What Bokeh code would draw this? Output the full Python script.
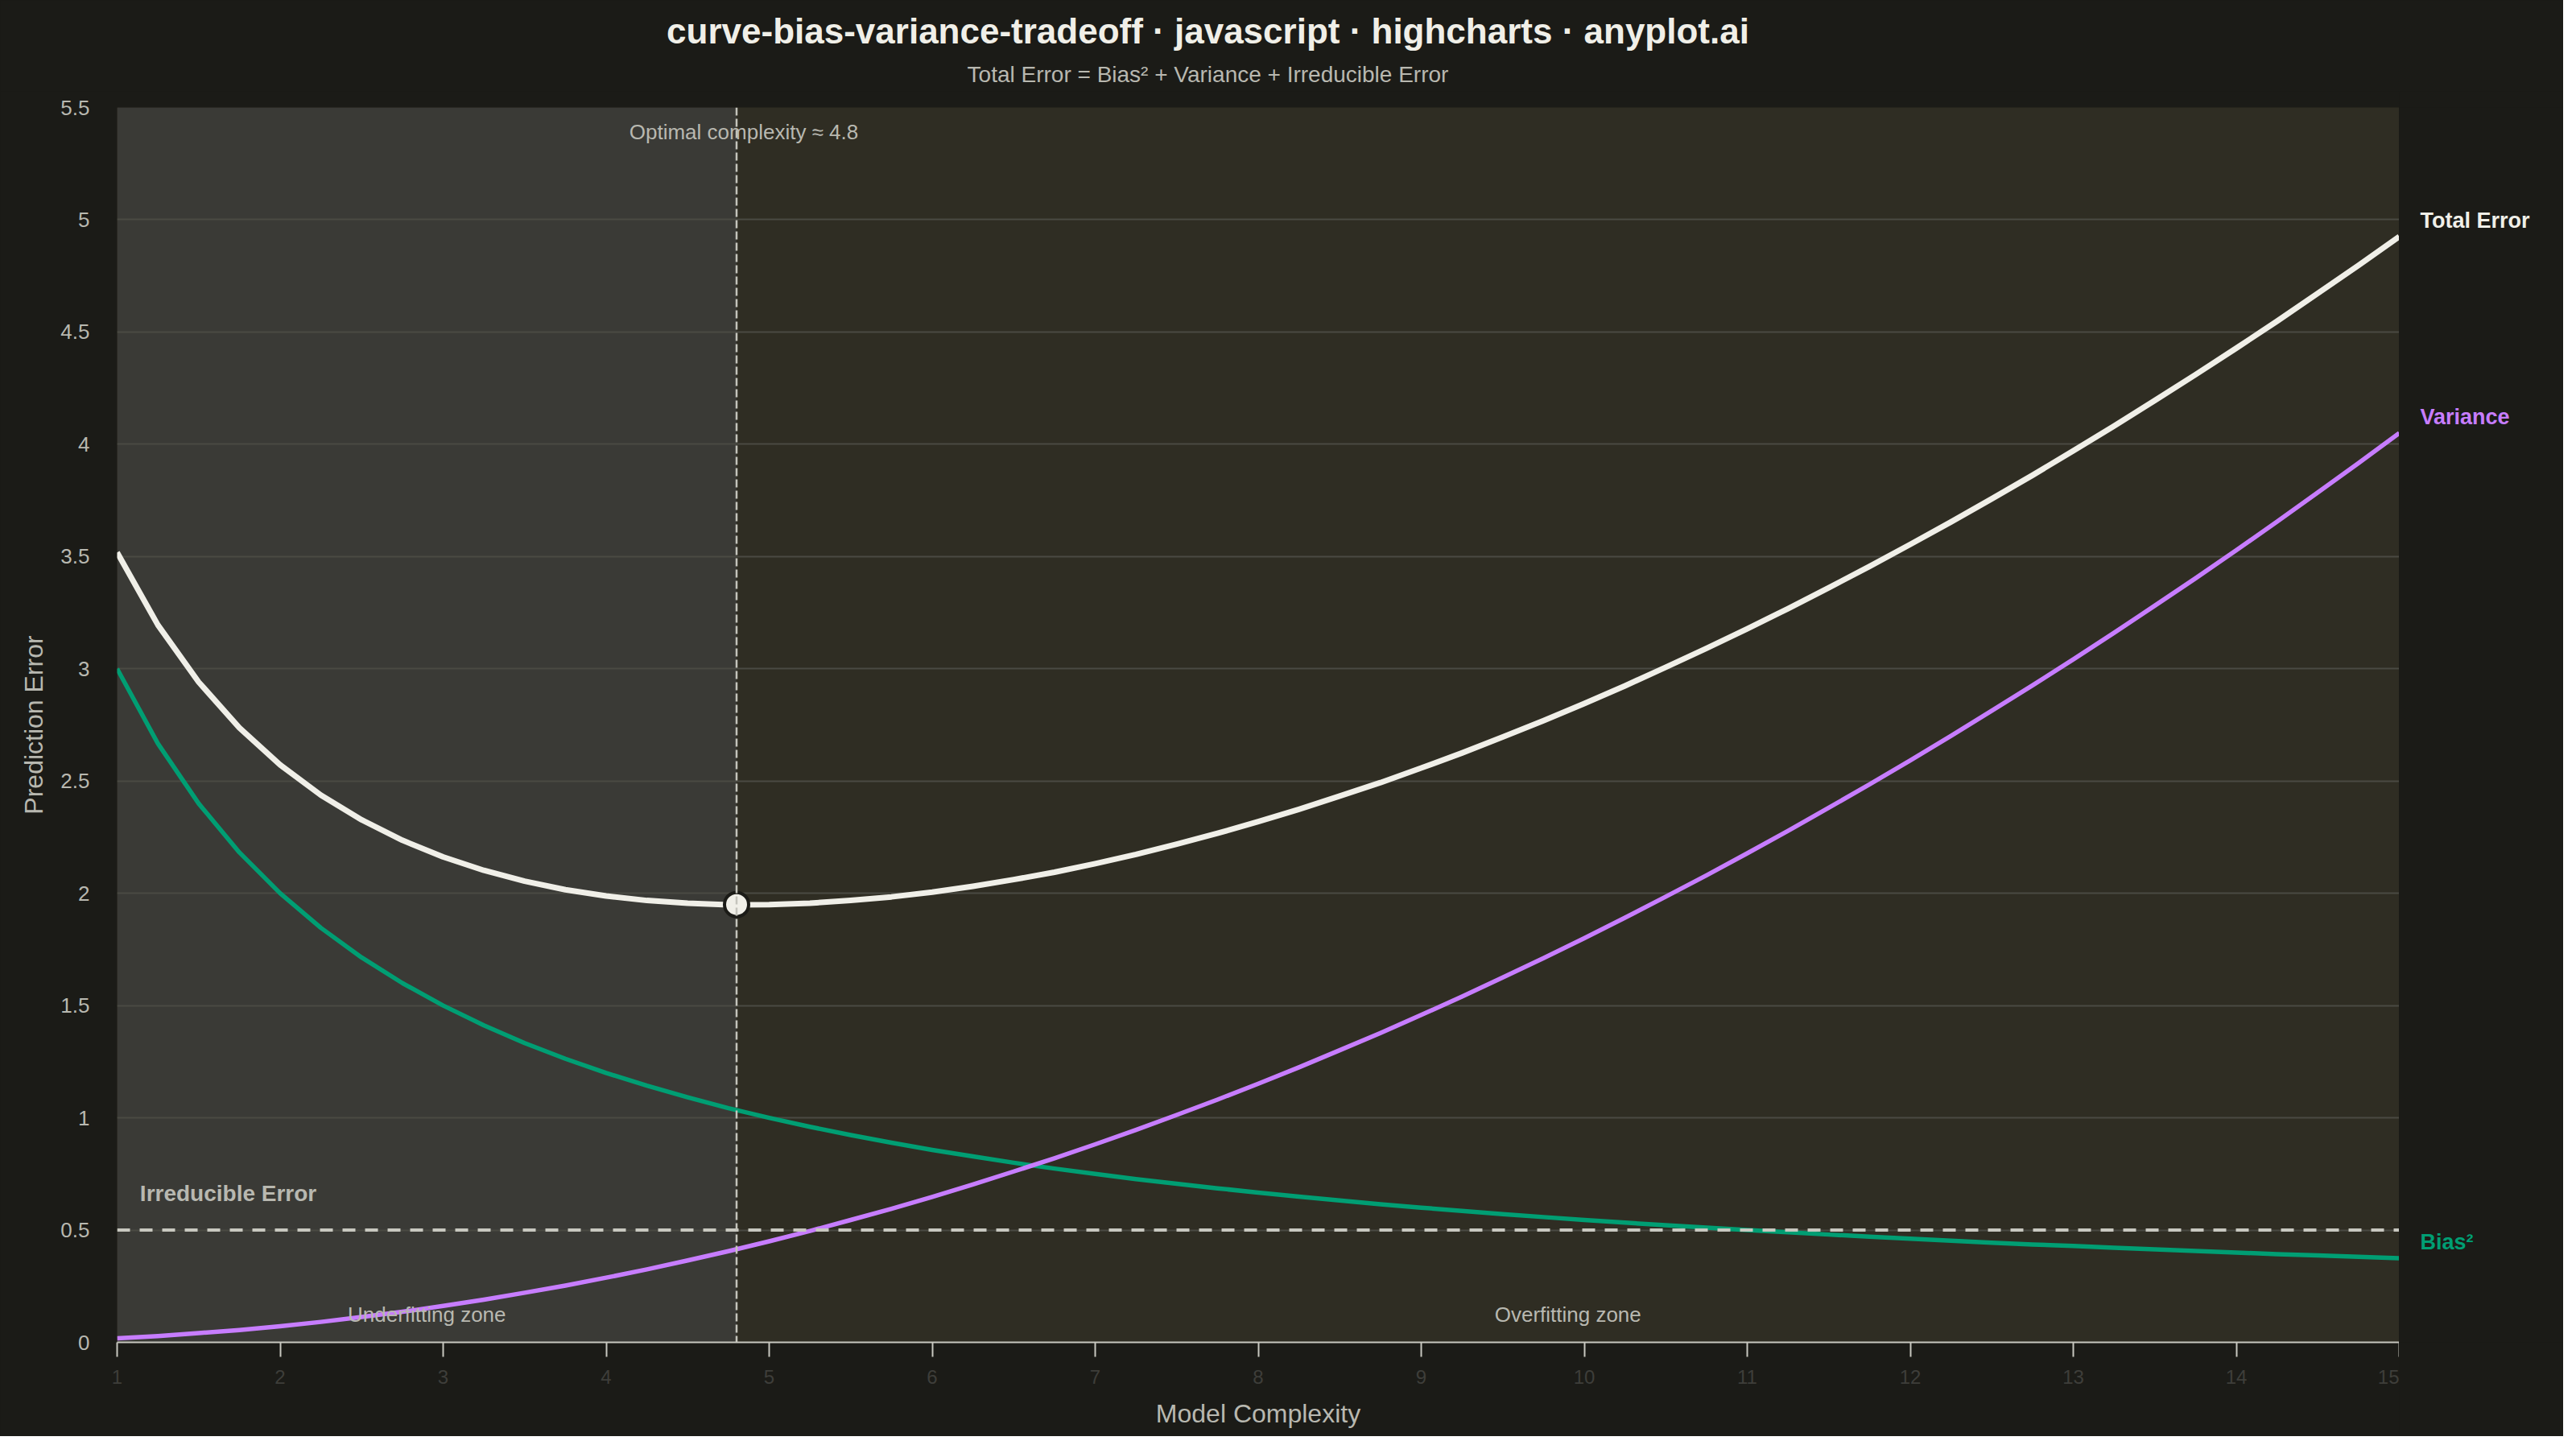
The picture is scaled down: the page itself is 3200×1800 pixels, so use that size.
from bokeh.plotting import figure
from bokeh.embed import file_html
from bokeh.resources import INLINE
from bokeh.layouts import row, column
from bokeh.models import Span, BoxAnnotation, FixedTicker, Range1d
from bokeh.core.properties import value

# ---- data ----
complexity = [1, 1.25, 1.5, 1.75, 2, 2.25, 2.5, 2.75, 3, 3.25, 3.5, 3.75, 4, 4.25, 4.5, 4.75,
              5, 5.25, 5.5, 5.75, 6, 6.25, 6.5, 6.75, 7, 7.25, 7.5, 7.75, 8, 8.25, 8.5, 8.75,
              9, 9.25, 9.5, 9.75, 10, 10.25, 10.5, 10.75, 11, 11.25, 11.5, 11.75, 12, 12.25,
              12.5, 12.75, 13, 13.25, 13.5, 13.75, 14, 14.25, 14.5, 14.75, 15]
bias_sq = [3.000, 2.667, 2.400, 2.182, 2.000, 1.846, 1.714, 1.600, 1.500, 1.412, 1.333, 1.263,
           1.200, 1.143, 1.091, 1.043, 1.000, 0.960, 0.923, 0.889, 0.857, 0.828, 0.800, 0.774,
           0.750, 0.727, 0.706, 0.686, 0.667, 0.649, 0.632, 0.615, 0.600, 0.585, 0.571, 0.558,
           0.545, 0.533, 0.522, 0.511, 0.500, 0.490, 0.480, 0.471, 0.462, 0.453, 0.444, 0.436,
           0.429, 0.421, 0.414, 0.407, 0.400, 0.393, 0.387, 0.381, 0.375]
variance = [0.018, 0.028, 0.041, 0.055, 0.072, 0.091, 0.113, 0.136, 0.162, 0.190, 0.221, 0.253,
            0.288, 0.325, 0.365, 0.406, 0.450, 0.496, 0.545, 0.595, 0.648, 0.703, 0.761, 0.820,
            0.882, 0.946, 1.013, 1.081, 1.152, 1.225, 1.301, 1.378, 1.458, 1.540, 1.625, 1.711,
            1.800, 1.891, 1.985, 2.080, 2.178, 2.278, 2.381, 2.485, 2.592, 2.701, 2.813, 2.926,
            3.042, 3.160, 3.281, 3.403, 3.528, 3.655, 3.785, 3.916, 4.050]
total_error = [3.518, 3.195, 2.941, 2.737, 2.572, 2.437, 2.327, 2.236, 2.162, 2.102, 2.054, 2.016,
               1.988, 1.968, 1.956, 1.949, 1.950, 1.956, 1.968, 1.984, 2.005, 2.031, 2.061, 2.094,
               2.132, 2.173, 2.219, 2.267, 2.319, 2.374, 2.433, 2.493, 2.558, 2.625, 2.696, 2.769,
               2.845, 2.924, 3.007, 3.091, 3.178, 3.268, 3.361, 3.456, 3.554, 3.654, 3.757, 3.862,
               3.971, 4.081, 4.195, 4.310, 4.428, 4.548, 4.672, 4.797, 4.925]
irreducible = 0.5
optimal_x = 4.8
optimal_y = 1.95
x_ticks = [1, 2, 3, 4, 5, 6, 7, 8, 9, 10, 11, 12, 13, 14, 15]
y_ticks = [0, 0.5, 1, 1.5, 2, 2.5, 3, 3.5, 4, 4.5, 5, 5.5]
y_tick_labels = ["0", "0.5", "1", "1.5", "2", "2.5", "3", "3.5", "4", "4.5", "5", "5.5"]
series_names = ["Total Error", "Variance", "Bias²"]

title_text = "curve-bias-variance-tradeoff · javascript · highcharts · anyplot.ai"
subtitle_text = "Total Error = Bias² + Variance + Irreducible Error"

FONT = "Liberation Sans"
PAGE_BG = "#1b1b17"
PLOT_BG = "#2f2d23"
UNDER_BG = "#3a3a36"
GRID = "#4a4a43"
TXT = "#b8b8b0"
WHITE = "#f0efe8"
PURPLE = "#c77dff"
GREEN = "#009e73"

HEADER_H = 113
TOP_PAD = 20
TOTAL_W = 3184
TOTAL_H = 1784
MAIN_W = 2980


def bare(fig):
    fig.grid.visible = False
    fig.outline_line_color = None
    fig.background_fill_color = PAGE_BG
    fig.border_fill_color = PAGE_BG


# ---- header with title and subtitle ----
header = figure(width=TOTAL_W, height=HEADER_H, x_range=Range1d(0, TOTAL_W),
                y_range=Range1d(0, HEADER_H), output_backend="svg", toolbar_location=None,
                x_axis_location=None, y_axis_location=None, min_border=0)
bare(header)
header.text([1500], [HEADER_H - 38], text=[title_text], text_font=value(FONT),
            text_font_size="44px", text_font_style="bold", text_color=WHITE,
            text_align="center", text_baseline="middle")
header.text([1500], [HEADER_H - 92], text=[subtitle_text], text_font=value(FONT),
            text_font_size="28px", text_color=TXT, text_align="center", text_baseline="middle")

# ---- main chart ----
p = figure(width=MAIN_W, height=TOTAL_H - HEADER_H, x_range=Range1d(1, 15), y_range=Range1d(0, 5.5),
           output_backend="svg", toolbar_location=None,
           min_border_left=145, min_border_right=0, min_border_top=TOP_PAD, min_border_bottom=117)
p.background_fill_color = PLOT_BG
p.border_fill_color = PAGE_BG
p.outline_line_color = None

# zones (drawn beneath the grid)
p.add_layout(BoxAnnotation(left=1, right=optimal_x, fill_color=UNDER_BG, fill_alpha=1.0,
                           line_color=None, level="image"))

# grid
p.xgrid.grid_line_color = None
p.ygrid.grid_line_color = GRID
p.ygrid.grid_line_width = 2
p.ygrid.ticker = FixedTicker(ticks=y_ticks)

# axes
p.xaxis.ticker = FixedTicker(ticks=x_ticks)
p.xaxis.axis_line_color = "#c8c8c0"
p.xaxis.axis_line_width = 2
p.xaxis.major_tick_line_color = "#c8c8c0"
p.xaxis.major_tick_line_width = 2
p.xaxis.major_tick_out = 18
p.xaxis.major_tick_in = 0
p.xaxis.minor_tick_line_color = None
p.xaxis.major_label_text_color = "#3e3e3a"
p.xaxis.major_label_text_font = FONT
p.xaxis.major_label_text_font_size = "24px"
p.xaxis.major_label_standoff = 16
p.xaxis.axis_label = "Model Complexity"
p.xaxis.axis_label_text_font = FONT
p.xaxis.axis_label_text_font_size = "32px"
p.xaxis.axis_label_text_font_style = "normal"
p.xaxis.axis_label_text_color = TXT
p.xaxis.axis_label_standoff = 16

p.yaxis.ticker = FixedTicker(ticks=y_ticks)
p.yaxis.major_label_overrides = {float(t): s for t, s in zip(y_ticks, y_tick_labels)}
p.yaxis.axis_line_color = None
p.yaxis.major_tick_line_color = None
p.yaxis.minor_tick_line_color = None
p.yaxis.major_label_text_color = TXT
p.yaxis.major_label_text_font = FONT
p.yaxis.major_label_text_font_size = "26px"
p.yaxis.major_label_standoff = 28
p.yaxis.axis_label = "Prediction Error"
p.yaxis.axis_label_text_font = FONT
p.yaxis.axis_label_text_font_size = "32px"
p.yaxis.axis_label_text_font_style = "normal"
p.yaxis.axis_label_text_color = TXT
p.yaxis.axis_label_standoff = 12

# irreducible error reference line
p.add_layout(Span(location=irreducible, dimension="width", line_color="#c8c8c0",
                  line_width=4, line_dash="16 12"))
# optimal complexity vertical line
p.add_layout(Span(location=optimal_x, dimension="height", line_color="#c4c4bc",
                  line_width=2.5, line_dash="10 4"))

# curves
p.line(complexity, bias_sq, line_color=GREEN, line_width=5.5, line_join="round")
p.line(complexity, variance, line_color=PURPLE, line_width=5.5, line_join="round")
p.line(complexity, total_error, line_color=WHITE, line_width=7, line_join="round")

p.scatter([optimal_x], [optimal_y], size=30, fill_color=WHITE, line_color=PAGE_BG, line_width=4)

# in-plot texts
p.text([optimal_x], [5.39], text=["Optimal complexity ≈ 4.8"], text_font=value(FONT),
       text_font_size="26px", text_color=TXT, text_align="center", text_baseline="middle",
       x_offset=9)
p.text([1.14], [0.663], text=["Irreducible Error"], text_font=value(FONT),
       text_font_size="28px", text_font_style="bold", text_color=TXT, text_align="left",
       text_baseline="middle")
p.text([2.9, 9.9], [0.122, 0.122], text=["Underfitting zone", "Overfitting zone"],
       text_font=value(FONT), text_font_size="26px", text_color=TXT, text_align="center",
       text_baseline="middle")

# ---- end-of-line labels in a narrow side panel sharing the y range ----
side = figure(width=TOTAL_W - MAIN_W, height=TOTAL_H - HEADER_H, x_range=Range1d(0, 1),
              y_range=p.y_range, output_backend="svg", toolbar_location=None,
              x_axis_location=None, y_axis_location=None,
              min_border_left=0, min_border_right=0, min_border_top=TOP_PAD, min_border_bottom=117)
bare(side)
end_values = [total_error[-1], variance[-1], bias_sq[-1]]
colors = [WHITE, PURPLE, GREEN]
side.text([0, 0, 0], end_values, text=series_names, text_color=colors,
          text_font=value(FONT), text_font_size="27px", text_font_style="bold",
          text_align="left", text_baseline="middle", x_offset=26, y_offset=-20)

layout = column(header, row(p, side, spacing=0), spacing=0)
layout.styles = {"background-color": PAGE_BG}
open("out.html", "w").write(file_html(layout, INLINE))
